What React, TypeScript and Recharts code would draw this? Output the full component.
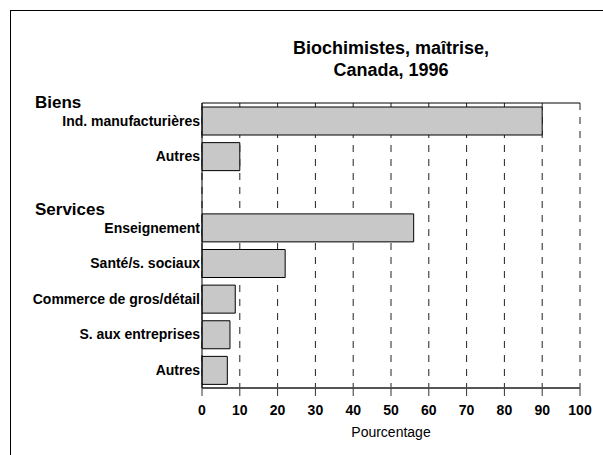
import React from 'react';
import { BarChart, Bar, XAxis, YAxis, CartesianGrid } from 'recharts';

// categories top to bottom; the empty one is the gap between the two groups
const categories = [
  'Ind. manufacturières',
  'Autres',
  '',
  'Enseignement',
  'Santé/s. sociaux',
  'Commerce de gros/détail',
  'S. aux entreprises',
  'Autres',
];
const percentages = [90, 10, null, 56, 22, 8.8, 7.4, 6.7];
const groupHeadings = [
  { label: 'Biens', firstIndex: 0 },
  { label: 'Services', firstIndex: 3 },
];
const xTicks = [0, 10, 20, 30, 40, 50, 60, 70, 80, 90, 100];
const titleLines = ['Biochimistes, maîtrise,', 'Canada, 1996'];

const data = categories.map((name, i) => ({ name, value: percentages[i] }));

const FONT = '"Liberation Sans", Arial, Helvetica, sans-serif';

const CategoryTick = (props: any) => {
  const { x, y, payload, index } = props;
  const heading = groupHeadings.find((g) => g.firstIndex === index);
  return (
    <g>
      {heading && (
        <text x={35} y={y - 13} fontSize={17} fontWeight="bold" fill="#000" textAnchor="start">
          {heading.label}
        </text>
      )}
      {payload.value !== '' && (
        <text x={x} y={y} dy="0.35em" fontSize={14} fontWeight="bold" fill="#000" textAnchor="end">
          {payload.value}
        </text>
      )}
    </g>
  );
};

const App: React.FC = () => {
  return (
    <div
      style={{
        position: 'absolute',
        left: 0,
        top: 0,
        width: 603,
        height: 455,
        background: '#fff',
        overflow: 'hidden',
        fontFamily: FONT,
      }}
    >
      {/* frame of the original page, only top and left edges show */}
      <div
        style={{
          position: 'absolute',
          left: 10,
          top: 10,
          width: 700,
          height: 600,
          borderLeft: '1px solid #000',
          borderTop: '1px solid #000',
        }}
      />
      <div
        style={{
          position: 'absolute',
          left: 191,
          top: 37,
          width: 400,
          textAlign: 'center',
          fontSize: 18,
          fontWeight: 'bold',
          lineHeight: '22px',
          color: '#000',
        }}
      >
        {titleLines.map((line) => (
          <div key={line}>{line}</div>
        ))}
      </div>
      <BarChart
        layout="vertical"
        width={603}
        height={455}
        data={data}
        margin={{ top: 102, right: 23, bottom: 0, left: 0 }}
        style={{ position: 'absolute', left: 0, top: 0 }}
      >
        <CartesianGrid horizontal={false} strokeDasharray="7 7" stroke="#222" />
        <XAxis
          type="number"
          domain={[0, 100]}
          ticks={xTicks}
          interval={0}
          height={67}
          tickSize={8}
          tickMargin={9}
          axisLine={{ stroke: '#555', strokeWidth: 2 }}
          tickLine={{ stroke: '#333' }}
          tick={{ fill: '#000', fontSize: 14, fontWeight: 'bold' }}
          label={{ value: 'Pourcentage', position: 'insideBottom', offset: 18, fill: '#000', fontSize: 14 }}
        />
        <XAxis
          xAxisId="top"
          orientation="top"
          type="number"
          domain={[0, 100]}
          height={1}
          tick={false}
          tickLine={false}
          axisLine={{ stroke: '#000' }}
        />
        <YAxis
          type="category"
          dataKey="name"
          width={202}
          interval={0}
          tickSize={0}
          tickMargin={2}
          tickLine={false}
          axisLine={{ stroke: '#000' }}
          tick={<CategoryTick />}
        />
        <Bar dataKey="value" barSize={28} fill="#c8c8c8" stroke="#000" strokeWidth={1} isAnimationActive={false} />
      </BarChart>
    </div>
  );
};

export default App;
